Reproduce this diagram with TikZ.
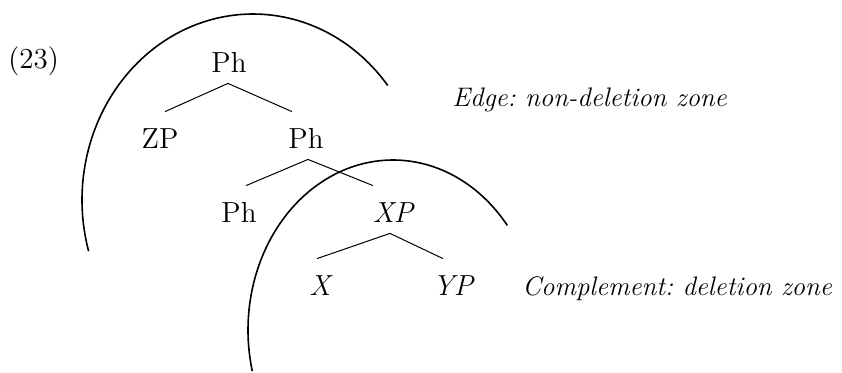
\documentclass[tikz,border=0pt]{standalone}
\usetikzlibrary{calc}
\begin{document}
\frenchspacing
\begin{tikzpicture}[x=0.5pt,y=-0.5pt,
  every node/.style={font=\fontsize{14.5}{17}\selectfont},
  tnode/.style={anchor=base,inner sep=0pt,text height=18pt,text depth=5.5pt},
  label/.style={anchor=base west,inner sep=0pt},
  zonelabel/.style={label,font=\fontsize{13.4}{16}\selectfont\itshape},
  branch/.style={line width=0.5pt},
  zone/.style={line width=0.8pt}]
\useasboundingbox (0,0) rectangle (842,372);
% tree nodes
\node[tnode] (ph1) at (229,72) {Ph};
\node[tnode] (zp)  at (160,148) {ZP};
\node[tnode] (ph2) at (306,148) {Ph};
\node[tnode] (ph3) at (239,222) {Ph};
\node[tnode] (xp)  at (393,222) {\itshape XP};
\node[tnode] (x)   at (320,295) {\itshape X};
\node[tnode] (yp)  at (453,295) {\itshape YP};
% labels
\node[label] (num) at (8,68) {(23)};
\node[zonelabel] (edge) at (452,106) {Edge: non-deletion zone};
\node[zonelabel] (comp) at (522,295) {Complement: deletion zone};
% branches
\draw[branch] ($(ph1.south)+(-1,0)$) -- ($(zp.north)+(5,0)$);
\draw[branch] ($(ph1.south)+(-1,0)$) -- ($(ph2.north)+(-14,0)$);
\draw[branch] ($(ph2.south)+(2,0)$) -- ($(ph3.north)+(7,0)$);
\draw[branch] ($(ph2.south)+(2,0)$) -- ($(xp.north)+(-20,0)$);
\draw[branch] ($(xp.south)+(-3,0)$) -- ($(x.north)+(-3,0)$);
\draw[branch] ($(xp.south)+(-3,0)$) -- ($(yp.north)+(-10,0)$);
% zones
\draw[zone] plot[domain=38:196,samples=120,smooth] ({253+171*cos(\x)},{200-186*sin(\x)});
\draw[zone] plot[domain=38:194,samples=120,smooth] ({393+145*cos(\x)},{330-170*sin(\x)});
\end{tikzpicture}
\end{document}
